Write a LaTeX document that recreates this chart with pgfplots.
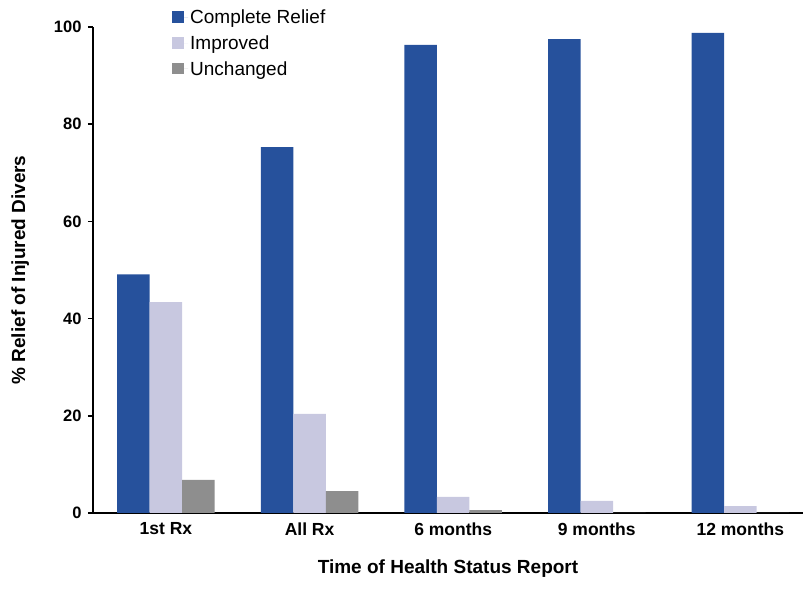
\documentclass[border=0pt]{standalone}
\usepackage{fontspec}
\setmainfont{Liberation Sans}
\usepackage{pgfplots}
\pgfplotsset{compat=1.18}
\definecolor{cblue}{HTML}{26519C}
\definecolor{clight}{HTML}{C8C8E0}
\definecolor{cgray}{HTML}{8E8E8E}
\begin{document}
\begin{tikzpicture}
\path[use as bounding box] (0,0) rectangle (803pt,589pt);
\begin{axis}[
  at={(93pt,76pt)}, anchor=south west,
  scale only axis, width=710pt, height=486pt,
  ybar=0pt, bar width=32.5pt,
  xmin=-0.508, xmax=4.436, ymin=0, ymax=100,
  axis x line=bottom, axis y line=left,
  axis line style={line width=2.5pt, -},
  xtick={0,1,2,3,4},
  xticklabels={1st Rx, All Rx, 6 months, 9 months, 12 months},
  x tick style={draw=none},
  ytick={0,20,40,60,80,100},
  y tick style={line width=1.5pt, black},
  tick align=outside, major tick length=5pt,
  /pgf/number format/assume math mode=true,
  yticklabel style={font=\fontsize{16.5}{19}\selectfont\bfseries, xshift=-3pt},
  xticklabel style={font=\fontsize{17.5}{20}\selectfont\bfseries, yshift=-1pt},
  xlabel={Time of Health Status Report},
  ylabel={\% Relief of Injured Divers},
  xlabel style={font=\fontsize{19}{22}\selectfont\bfseries, yshift=-17pt},
  ylabel style={font=\fontsize{19}{22}\selectfont\bfseries, yshift=18pt},
  legend style={draw=none, fill=none, at={(axis cs:0.042,104.0)}, anchor=north west,
    font=\fontsize{19}{22}\selectfont, row sep=6.5pt, inner sep=0pt,
    /tikz/every even column/.append style={column sep=0pt}},
  legend cell align=left,
  legend image code/.code={\fill[#1] (0pt,-5.5pt) rectangle (11.5pt,6pt); \path (0pt,0pt) -- (16pt,0pt);},
  clip=false,
]
\addplot[fill=cblue, draw=none] coordinates {(0,49.1) (1,75.3) (2,96.3) (3,97.5) (4,98.8)};
\addplot[fill=clight, draw=none] coordinates {(0,43.4) (1,20.4) (2,3.3) (3,2.5) (4,1.4)};
\addplot[fill=cgray, draw=none] coordinates {(0,6.8) (1,4.5) (2,0.6) (3,0) (4,0)};
\legend{Complete Relief, Improved, Unchanged}
\end{axis}
\end{tikzpicture}
\end{document}
